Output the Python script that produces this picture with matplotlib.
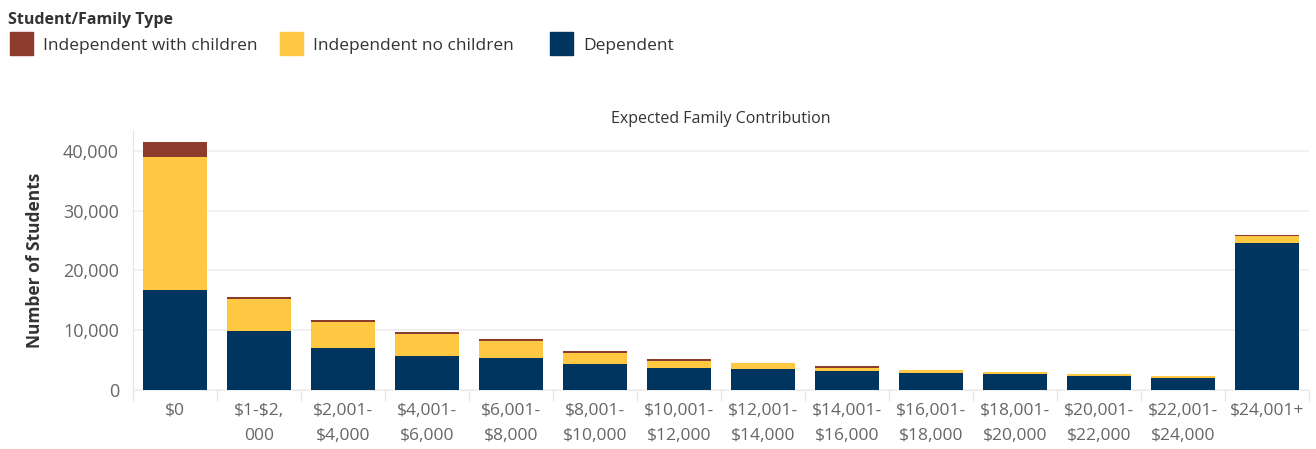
import numpy as np
import matplotlib
matplotlib.use('Agg')
import matplotlib.pyplot as plt
from matplotlib.patches import Rectangle


plt.rcParams['font.family'] = ['Open Sans', 'DejaVu Sans']

# Data
categories = ['$0', '$1-$2,\n000', '$2,001-\n$4,000', '$4,001-\n$6,000',
              '$6,001-\n$8,000', '$8,001-\n$10,000', '$10,001-\n$12,000',
              '$12,001-\n$14,000', '$14,001-\n$16,000', '$16,001-\n$18,000',
              '$18,001-\n$20,000', '$20,001-\n$22,000', '$22,001-\n$24,000',
              '$24,001+']
dependent = [16700, 9920, 7080, 5690, 5400, 4290, 3730, 3450, 3180, 2900,
             2600, 2340, 2060, 24530]
indep_no_children = [22200, 5350, 4290, 3730, 2840, 1950, 1120, 1120, 550, 500,
                     330, 300, 340, 1220]
indep_with_children = [2570, 280, 280, 280, 290, 280, 280, 0, 280, 0,
                       0, 0, 0, 220]

series_names = ['Independent with children', 'Independent no children', 'Dependent']
series_colors = ['#8d3b2c', '#fec843', '#00355f']

yticks = [0, 10000, 20000, 30000, 40000]
ytick_labels = ['0', '10,000', '20,000', '30,000', '40,000']

grey_text = '#666666'
dark_text = '#333333'

fig = plt.figure(figsize=(13.16, 4.49), dpi=100)
ax = fig.add_axes([0.101, 0.1314, 0.894, 0.5791])

x = np.arange(len(categories))
w = 0.76
dep = np.array(dependent)
nochild = np.array(indep_no_children)
withchild = np.array(indep_with_children)

ax.bar(x, dep, width=w, color=series_colors[2], linewidth=0, zorder=3)
ax.bar(x, nochild, width=w, bottom=dep, color=series_colors[1], linewidth=0, zorder=3)
ax.bar(x, withchild, width=w, bottom=dep + nochild, color=series_colors[0],
       linewidth=0, zorder=3)

ax.set_xlim(-0.5, len(categories) - 0.5)
ax.set_ylim(0, 43500)

ax.set_yticks(yticks)
ax.set_yticklabels(ytick_labels)
ax.yaxis.grid(True, color='#efefef', linewidth=1.2, zorder=0)
ax.set_axisbelow(True)

ax.set_xticks(x)
ax.set_xticklabels(categories, parse_math=False)
ax.set_xticks(np.arange(len(categories) + 1) - 0.5, minor=True)

ax.tick_params(axis='y', length=0, labelsize=13, labelcolor=grey_text, pad=10)
ax.tick_params(axis='x', which='major', length=0, labelsize=12.5,
               labelcolor=grey_text, pad=9)
ax.tick_params(axis='x', which='minor', length=8, width=1, color='#e6e6e6')
for lab in ax.get_xticklabels():
    lab.set_linespacing(1.75)

for s in ['top', 'right']:
    ax.spines[s].set_visible(False)
ax.spines['left'].set_color('#e6e6e6')
ax.spines['bottom'].set_color('#eeeeee')

ax.set_ylabel('Number of Students', fontsize=12.5, fontweight='bold',
              color=dark_text, labelpad=14)
ax.set_title('Expected Family Contribution', fontsize=11.5, color=dark_text,
             pad=5)

# Legend at the top left
fig.text(8 / 1316, 1 - 20 / 449, 'Student/Family Type', fontsize=11.5,
         fontweight='bold', color=dark_text, va='center', ha='left')
legend_x = [10, 280, 550]
for lx, name, col in zip(legend_x, series_names, series_colors):
    fig.add_artist(Rectangle((lx / 1316, 1 - 55 / 449), 23 / 1316, 23 / 449,
                             transform=fig.transFigure, color=col))
    fig.text((lx + 33) / 1316, 1 - 46 / 449, name, fontsize=12.5,
             color=dark_text, va='center', ha='left')

fig.savefig('out.png', dpi=100)
